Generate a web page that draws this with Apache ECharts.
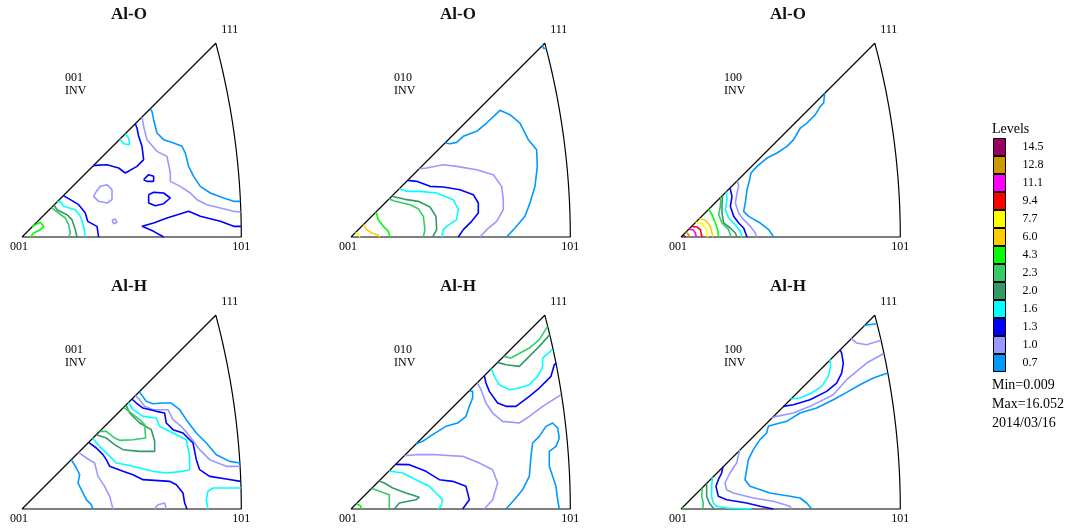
<!DOCTYPE html>
<html><head><meta charset="utf-8">
<script src="https://cdn.jsdelivr.net/npm/echarts@6/dist/echarts.min.js"></script>
<style>html,body{margin:0;padding:0;background:#fff}#c{width:1072px;height:528px}</style>
</head><body><div id="c"></div>
<script>
// ---- data ----
const levels = ['14.5','12.8','11.1','9.4','7.7','6.0','4.3','2.3','2.0','1.6','1.3','1.0','0.7'];
const levelColors = ['#990066','#cc9900','#ff00ff','#ff0000','#ffff00','#ffcc00','#00ff00','#33cc66','#339966','#00ffff','#0000ff','#9999ff','#0099ff'];
const panelTitles = ['Al-O','Al-O','Al-O','Al-H','Al-H','Al-H'];
const panelDirections = ['001','010','100','001','010','100'];
const cornerLabels = ['001','101','111'];
const statsLines = ['Min=0.009','Max=16.052','2014/03/16'];
const EDGE = 658; // projection units along the 001-101 edge

const contoursAlO001 = [
 ['0.7', [[385,384],[390,377],[395,352],[405,312],[425,292],[455,282],[480,272],[490,252],[500,212],[515,182],[535,152],[565,132],[605,117],[635,107],[655,107]]],
 ['1.0', [[360,360],[365,332],[375,292],[405,257],[435,242],[445,192],[445,167],[475,152],[505,132],[525,112],[555,97],[595,87],[635,77],[656,75]]],
 ['1.3', [[340,340],[345,327],[350,302],[360,272],[365,232],[345,212],[310,192],[290,207],[255,217],[220,215],[213,213]]],
 ['1.3', [[124,124],[145,112],[170,97],[190,72],[197,47],[225,32],[230,0]]],
 ['1.3', [[657,32],[635,32],[595,47],[535,62],[500,77],[435,57],[395,42],[360,32],[395,17],[425,0]]],
 ['1.3', [[365,172],[380,187],[395,182],[395,167],[375,167],[365,172]]],
 ['1.3', [[380,127],[395,134],[425,132],[445,117],[425,100],[400,94],[380,102],[380,127]]],
 ['1.0', [[220,132],[235,152],[255,157],[270,142],[270,112],[255,102],[230,107],[215,122],[220,132]]],
 ['1.0', [[270,50],[280,54],[285,44],[275,40],[270,50]]],
 ['1.6', [[310,310],[320,297],[323,277],[305,280],[294,294]]],
 ['1.6', [[106,106],[115,107],[125,92],[160,82],[175,62],[185,32],[190,0]]],
 ['2.0', [[96,96],[105,82],[135,67],[150,52],[160,22],[165,0]]],
 ['2.3', [[88,88],[110,72],[130,57],[140,37],[145,12],[140,0]]],
 ['4.3', [[25,0],[35,12],[55,22],[65,32],[55,44],[40,37],[30,30]]]
];
const contoursAlO010 = [
 ['0.7', [[282,282],[297,280],[317,284],[337,302],[377,317],[407,342],[447,380],[477,367],[507,342],[532,292],[557,262],[559,212],[552,152],[537,102],[522,62],[492,27],[467,0]]],
 ['0.7', [[574,576],[578,566],[586,566]]],
 ['1.0', [[205,205],[227,207],[277,217],[317,212],[377,202],[427,187],[452,152],[457,112],[457,82],[437,47],[407,22],[387,0]]],
 ['1.3', [[170,170],[197,167],[237,152],[277,150],[327,142],[367,127],[382,102],[382,72],[362,47],[337,22],[322,0]]],
 ['1.6', [[145,145],[167,137],[207,137],[257,132],[307,112],[322,82],[317,52],[287,32],[277,22],[272,0]]],
 ['2.0', [[122,122],[162,113],[202,107],[237,90],[255,62],[257,22],[245,0]]],
 ['2.3', [[114,114],[130,108],[177,97],[202,85],[217,62],[222,22],[217,0]]],
 ['4.3', [[75,75],[82,52],[97,32],[112,17],[117,0]]],
 ['6.0', [[37,37],[47,22],[62,12],[82,5],[87,0]]],
 ['7.7', [[14,14],[22,7],[27,0]]]
];
const contoursAlO100 = [
 ['0.7', [[431,431],[435,427],[428,402],[418,392],[403,367],[378,342],[358,327],[338,292],[318,272],[288,252],[258,237],[228,212],[210,192],[206,172],[198,142],[193,102],[188,77],[203,62],[238,42],[263,22],[278,0]]],
 ['1.0', [[169,169],[173,152],[168,132],[163,102],[173,72],[188,52],[208,32],[223,12],[228,0]]],
 ['1.3', [[147,147],[153,122],[148,92],[158,62],[173,42],[188,27],[198,0]]],
 ['1.6', [[136,136],[138,112],[133,82],[143,57],[163,37],[178,17],[183,0]]],
 ['2.0', [[125,125],[123,102],[123,72],[128,42],[148,27],[163,12],[168,0]]],
 ['2.3', [[120,120],[118,92],[113,67],[123,42],[143,22],[150,0]]],
 ['4.3', [[83,83],[93,67],[103,42],[110,22],[113,0]]],
 ['6.0', [[55,55],[73,50],[88,32],[93,12],[96,0]]],
 ['7.7', [[44,44],[63,40],[76,24],[80,0]]],
 ['9.4', [[32,32],[48,30],[58,22],[63,0]]],
 ['11.1', [[24,24],[38,20],[43,12],[46,0]]],
 ['12.8', [[15,15],[23,7],[25,0]]],
 ['14.5', [[7,7],[13,0]]]
];
const contoursAlH001 = [
 ['0.7', [[352,352],[373,323],[393,316],[423,318],[448,318],[473,298],[493,268],[523,228],[553,198],[583,163],[623,143],[654,138]]],
 ['0.7', [[148,148],[163,123],[173,103],[168,78],[178,58],[193,28],[208,13],[213,0]]],
 ['1.0', [[340,340],[353,328],[368,308],[393,298],[438,298],[453,268],[478,248],[503,218],[533,178],[563,148],[613,128],[654,128]]],
 ['1.0', [[170,170],[193,153],[218,138],[228,98],[248,68],[263,38],[273,0]]],
 ['1.0', [[398,0],[408,13],[428,18],[433,0]]],
 ['1.3', [[330,330],[343,318],[363,303],[403,293],[428,288],[433,258],[453,238],[483,228],[513,198],[523,148],[533,118],[563,98],[613,90],[656,83]]],
 ['1.3', [[200,200],[223,183],[243,163],[253,148],[263,128],[303,113],[333,103],[363,88],[443,83],[463,73],[483,48],[488,18],[495,0]]],
 ['1.6', [[320,320],[333,298],[363,278],[403,273],[413,248],[433,238],[453,228],[493,208],[503,158],[503,118],[483,113],[433,108],[393,113],[353,123],[313,133],[283,138],[258,163],[233,188],[212,212]]],
 ['1.6', [[657,63],[573,63],[558,53],[553,28],[558,0]]],
 ['2.0', [[312,312],[323,288],[353,258],[388,238],[398,203],[398,173],[353,173],[303,178],[278,193],[253,213],[223,223]]],
 ['2.3', [[305,305],[322,292],[353,268],[368,253],[371,213],[333,208],[293,206],[278,213],[253,233],[233,233]]]
];
const contoursAlH010 = [
 ['2.3', [[458,458],[480,453],[535,483],[565,508],[590,548]]],
 ['2.0', [[440,440],[465,433],[505,428],[535,458],[565,488],[596,523]]],
 ['1.6', [[421,421],[430,398],[445,373],[475,358],[505,363],[535,373],[560,398],[575,428],[575,453],[604,478]]],
 ['1.3', [[400,400],[405,378],[415,353],[440,318],[465,308],[495,308],[535,338],[565,363],[600,398],[610,433],[616,438]]],
 ['1.0', [[379,379],[390,358],[405,318],[425,288],[455,263],[505,258],[535,278],[575,308],[631,343]]],
 ['0.7', [[355,355],[365,353],[365,333],[355,308],[345,278],[320,258],[285,248],[245,223],[215,203],[196,196]]],
 ['0.7', [[465,0],[490,28],[515,58],[535,98],[540,158],[545,198],[565,218],[585,248],[605,258],[620,243],[625,213],[615,188],[595,173],[595,128],[605,98],[615,68],[620,28],[625,0]]],
 ['1.0', [[160,160],[195,163],[255,163],[335,158],[385,138],[425,118],[440,78],[425,28],[400,0]]],
 ['1.3', [[134,134],[175,133],[225,113],[265,88],[305,83],[345,68],[355,28],[335,0]]],
 ['1.6', [[114,114],[155,108],[195,88],[235,68],[255,48],[275,28],[270,8],[260,0]]],
 ['2.0', [[84,84],[100,78],[125,63],[165,48],[205,35],[195,28],[145,18],[130,0]]],
 ['2.3', [[62,62],[85,53],[115,43],[115,0]]],
 ['4.3', [[16,16],[28,10],[32,0]]]
];
const contoursAlH100 = [
 ['0.7', [[547,550],[562,553],[588,556]]],
 ['1.0', [[510,512],[527,498],[557,493],[600,506]]],
 ['1.6', [[329,330],[357,333],[392,348],[422,368],[442,398],[449,428],[447,449]]],
 ['1.3', [[307,308],[337,313],[387,328],[437,353],[467,378],[482,408],[487,438],[482,468],[477,478]]],
 ['1.0', [[272,273],[287,278],[337,288],[387,308],[457,343],[497,388],[557,438],[607,466]]],
 ['0.7', [[620,408],[577,393],[537,373],[497,350],[457,328],[407,303],[357,288],[317,263],[277,253],[262,248],[257,228],[237,208],[217,178],[202,148],[197,118],[192,88],[207,68],[267,48],[327,38],[357,33],[377,18],[392,0]]],
 ['1.0', [[176,177],[167,138],[147,108],[132,78],[137,58],[157,48],[217,33],[277,23],[327,8],[332,0]]],
 ['1.3', [[126,127],[122,108],[112,88],[105,68],[112,38],[137,28],[197,18],[237,8],[277,0]]],
 ['1.6', [[94,95],[92,68],[92,38],[97,18],[107,8],[137,3],[212,0]]],
 ['2.0', [[77,77],[77,38],[85,18],[99,0]]],
 ['2.3', [[64,64],[62,38],[67,18],[65,0]]],
 ['4.3', [[4,4],[8,0]]]
];
const panelContours = [contoursAlO001, contoursAlO010, contoursAlO100, contoursAlH001, contoursAlH010, contoursAlH100];

// ---- layout ----
const colX = [22, 351, 681];
const rowBase = [237, 509];
const W = 219.3;
const SERIF = '"Liberation Serif", "Times New Roman", serif';

// stereographic triangle outline (001-101-111), in EDGE units
const t22 = Math.tan(Math.PI / 8);
const k = EDGE / t22;
const p111 = 0.36603 * k;
const arcCx = -k, arcR = Math.SQRT2 * k;
const arcEnd = Math.atan2(p111, p111 - arcCx);
const outline = [[0, 0], [EDGE, 0]];
for (let i = 1; i <= 40; i++) {
  const a = arcEnd * i / 40;
  outline.push([arcCx + arcR * Math.cos(a), arcR * Math.sin(a)]);
}
outline.push([0, 0]);

const grids = [], xAxes = [], yAxes = [], series = [], graphics = [];
panelContours.forEach((contours, i) => {
  const c = i % 3, r = Math.floor(i / 3);
  const ox = colX[c], base = rowBase[r];
  grids.push({left: ox, top: base - W, width: W, height: W});
  xAxes.push({type: 'value', gridIndex: i, min: 0, max: EDGE, show: false});
  yAxes.push({type: 'value', gridIndex: i, min: 0, max: EDGE, show: false});
  series.push({type: 'line', xAxisIndex: i, yAxisIndex: i, data: outline, symbol: 'none', silent: true,
    lineStyle: {color: '#000', width: 1.2}, z: 1, clip: false});
  contours.forEach(([lvl, pts]) => {
    const col = levelColors[levels.indexOf(lvl)];
    series.push({type: 'line', name: lvl, xAxisIndex: i, yAxisIndex: i, data: pts, symbol: 'none', silent: true,
      lineStyle: {color: col, width: 1.6}, itemStyle: {color: col}, z: 2, clip: false});
  });
  const px = v => ox + v / EDGE * W;
  const py = v => base - v / EDGE * W;
  graphics.push({type: 'text', x: ox + 107, y: base - 222, style: {text: panelTitles[i], font: 'bold 17px ' + SERIF, fill: '#111', align: 'center', verticalAlign: 'middle'}});
  graphics.push({type: 'text', x: px(0) - 3, y: base + 10, style: {text: cornerLabels[0], font: '12px ' + SERIF, fill: '#000', align: 'center', verticalAlign: 'middle'}});
  graphics.push({type: 'text', x: px(EDGE), y: base + 10, style: {text: cornerLabels[1], font: '12px ' + SERIF, fill: '#000', align: 'center', verticalAlign: 'middle'}});
  graphics.push({type: 'text', x: px(p111) + 14, y: py(p111) - 13, style: {text: cornerLabels[2], font: '12px ' + SERIF, fill: '#000', align: 'center', verticalAlign: 'middle'}});
  graphics.push({type: 'text', x: ox + 43, y: base - 159, style: {text: panelDirections[i], font: '12px ' + SERIF, fill: '#000', align: 'left', verticalAlign: 'middle'}});
  graphics.push({type: 'text', x: ox + 43, y: base - 146, style: {text: 'INV', font: '12px ' + SERIF, fill: '#000', align: 'left', verticalAlign: 'middle'}});
});

graphics.push({type: 'text', x: 992, y: 129, style: {text: 'Levels', font: '14px ' + SERIF, fill: '#000', align: 'left', verticalAlign: 'middle'}});
statsLines.forEach((s, j) => {
  graphics.push({type: 'text', x: 992, y: [385, 404, 423][j], style: {text: s, font: '14px ' + SERIF, fill: '#000', align: 'left', verticalAlign: 'middle'}});
});

const chart = echarts.init(document.getElementById('c'));
chart.setOption({
  animation: false,
  backgroundColor: '#fff',
  grid: grids, xAxis: xAxes, yAxis: yAxes, series: series,
  legend: {
    data: levels, orient: 'vertical', left: 993, top: 138, padding: 0,
    itemWidth: 12, itemHeight: 17, itemGap: 0, icon: 'rect', selectedMode: false,
    itemStyle: {borderColor: '#000', borderWidth: 1},
    textStyle: {fontFamily: SERIF, fontSize: 12, color: '#000', padding: [0, 0, 0, 12]}
  },
  graphic: graphics
});
</script></body></html>
